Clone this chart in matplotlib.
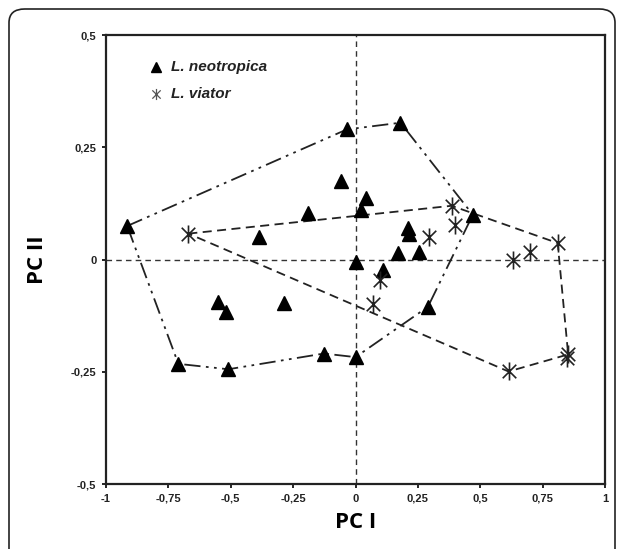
import matplotlib.pyplot as plt
from matplotlib.patches import FancyBboxPatch
from matplotlib.path import Path

# PCA scores
neo_x = [-0.915, -0.035, 0.18, -0.06, 0.04, 0.02, -0.19, -0.385, 0.47, 0.21, 0.215,
         0.17, 0.255, 0.0, 0.11, 0.29, -0.55, -0.52, -0.285, -0.127, 0.0, -0.71, -0.51]
neo_y = [0.075, 0.29, 0.305, 0.175, 0.138, 0.11, 0.105, 0.05, 0.1, 0.07, 0.058,
         0.015, 0.017, -0.005, -0.023, -0.105, -0.095, -0.117, -0.096, -0.209, -0.217, -0.232, -0.244]

via_x = [-0.67, 0.385, 0.40, 0.294, 0.098, 0.07, 0.632, 0.70, 0.81, 0.852, 0.846, 0.613]
via_y = [0.058, 0.12, 0.077, 0.05, -0.045, -0.098, 0.0, 0.017, 0.037, -0.211, -0.218, -0.249]

# hull vertices (indices into the arrays above)
neo_hull = [0, 1, 2, 8, 15, 20, 19, 22, 21, 0]
via_hull = [0, 1, 8, 9, 11, 0]

xticks = [-1, -0.75, -0.5, -0.25, 0, 0.25, 0.5, 0.75, 1]
xlabels = ['-1', '-0,75', '-0,5', '-0,25', '0', '0,25', '0,5', '0,75', '1']
yticks = [-0.5, -0.25, 0, 0.25, 0.5]
ylabels = ['-0,5', '-0,25', '0', '0,25', '0,5']

# asterisk: vertical bar plus an X
star = Path([(0, -1), (0, 1), (-0.75, -0.75), (0.75, 0.75), (-0.75, 0.75), (0.75, -0.75)],
            [Path.MOVETO, Path.LINETO, Path.MOVETO, Path.LINETO, Path.MOVETO, Path.LINETO])

fig = plt.figure(figsize=(6.29, 5.49), dpi=100)
ax = fig.add_axes([0.1685, 0.118, 0.7935, 0.818])

# rounded outer frame
frame = FancyBboxPatch((9 / 629, -0.05), 615 / 629 - 9 / 629, 1 - 9 / 549 + 0.05,
                       boxstyle='round,pad=0,rounding_size=0.025',
                       transform=fig.transFigure, fill=False, ec='#222222', lw=1.2,
                       clip_on=False)
fig.patches.append(frame)

ax.axhline(0, color='#333333', lw=1, ls=(0, (4, 3)), zorder=1)
ax.axvline(0, color='#333333', lw=1, ls=(0, (4, 3)), zorder=1)

ax.plot([neo_x[i] for i in neo_hull], [neo_y[i] for i in neo_hull],
        color='#222222', lw=1.3, ls=(0, (9, 3, 1.5, 3, 1.5, 3)), zorder=2)
ax.plot([via_x[i] for i in via_hull], [via_y[i] for i in via_hull],
        color='#222222', lw=1.3, ls=(0, (5, 3)), zorder=2)

ax.plot(neo_x, neo_y, ls='none', marker='^', ms=10, color='black', zorder=3)
ax.plot(via_x, via_y, ls='none', marker=star, ms=13, mew=1.2,
        color='#222222', mfc='none', zorder=3)

# legend
ax.plot([-0.8], [0.43], ls='none', marker='^', ms=6.5, color='black')
ax.plot([-0.8], [0.37], ls='none', marker=star, ms=8, mew=0.9, mfc='none', color='#555555')
ax.text(-0.74, 0.43, 'L. neotropica', fontsize=11, fontweight='bold', style='italic',
        family='Liberation Sans', va='center', color='#222222')
ax.text(-0.74, 0.37, 'L. viator', fontsize=11, fontweight='bold', style='italic',
        family='Liberation Sans', va='center', color='#222222')

ax.set_xlim(-1, 1)
ax.set_ylim(-0.5, 0.5)
ax.set_xticks(xticks)
ax.set_xticklabels(xlabels)
ax.set_yticks(yticks)
ax.set_yticklabels(ylabels)
for lab in ax.get_xticklabels() + ax.get_yticklabels():
    lab.set_fontsize(8)
    lab.set_fontweight('bold')
    lab.set_family('Liberation Sans')
    lab.set_color('#222222')
ax.tick_params(direction='out', length=3, width=1.2, pad=4)
for s in ax.spines.values():
    s.set_linewidth(1.6)
    s.set_color('#222222')

ax.set_xlabel('PC I', fontsize=16, fontweight='bold', family='Open Sans', labelpad=6)
ax.set_ylabel('PC II', fontsize=16, fontweight='bold', family='Open Sans', labelpad=16)

fig.savefig('out.png', dpi=100)
